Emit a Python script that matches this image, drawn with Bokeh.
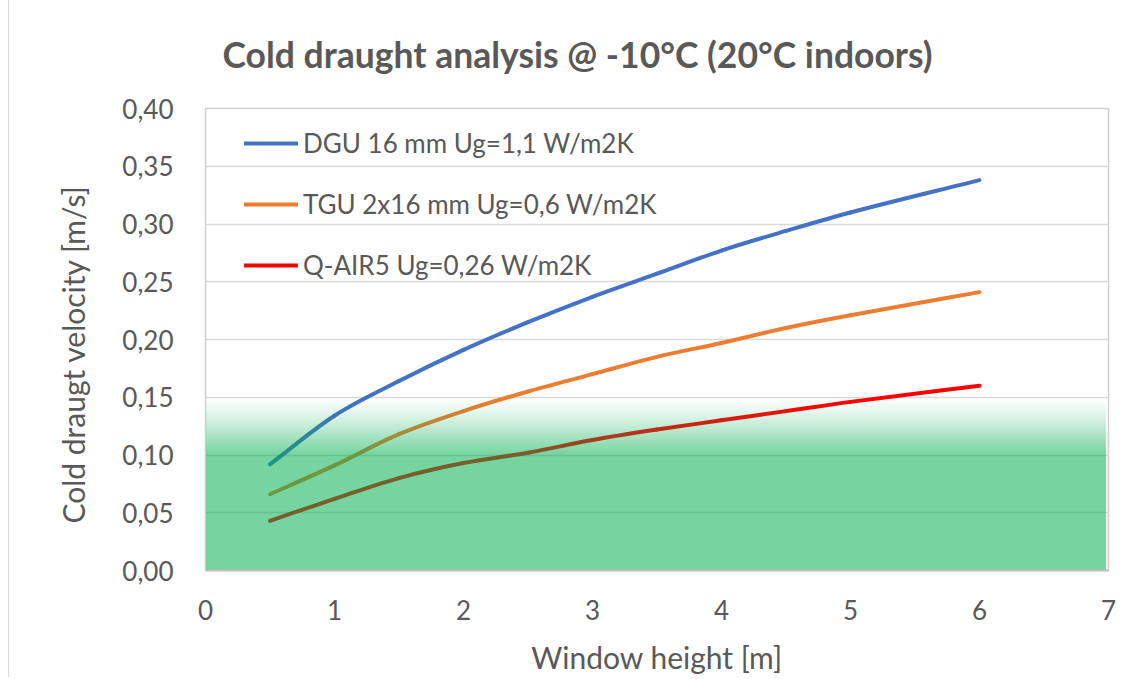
import numpy as np
from bokeh.plotting import figure
from bokeh.models import Legend, LegendItem, FixedTicker, Title
from bokeh.embed import file_html
from bokeh.resources import INLINE

# ---- data ----
heights = [0.5, 1.0, 1.5, 2.0, 2.5, 3.0, 3.5, 4.0, 4.5, 5.0, 6.0]
dgu = [0.092, 0.134, 0.164, 0.191, 0.215, 0.237, 0.257, 0.277, 0.294, 0.310, 0.338]
tgu = [0.066, 0.091, 0.118, 0.138, 0.155, 0.170, 0.185, 0.197, 0.210, 0.221, 0.241]
qair = [0.043, 0.062, 0.080, 0.093, 0.102, 0.113, 0.122, 0.130, 0.138, 0.146, 0.160]
series_names = ["DGU 16 mm Ug=1,1 W/m2K", "TGU 2x16 mm Ug=0,6 W/m2K", "Q-AIR5 Ug=0,26 W/m2K"]
series_colors = ["#4472C4", "#ED7D31", "#FF0000"]

x_ticks = [0, 1, 2, 3, 4, 5, 6, 7]
y_ticks = [0.0, 0.05, 0.10, 0.15, 0.20, 0.25, 0.30, 0.35, 0.40]
y_tick_labels = ["0,00", "0,05", "0,10", "0,15", "0,20", "0,25", "0,30", "0,35", "0,40"]

comfort_limit = 0.10   # solid comfort zone up to this velocity
comfort_fade = 0.15    # zone fades out up to this velocity
zone_right = 6.98

FONT = "Lato"
TXT = "#595959"
GREEN_RGB = (0, 175, 80)
ZONE_ALPHA = 0.54

p = figure(frame_width=903, frame_height=462,
           min_border_left=196, min_border_right=22,
           min_border_top=108, min_border_bottom=100,
           x_range=(0, 7), y_range=(0, 0.40),
           output_backend="svg", toolbar_location=None,
           background_fill_color="white", border_fill_color="white")
p.outline_line_color = "#D0D0D0"
p.outline_line_width = 1.5

p.title.text = "Cold draught analysis @ -10°C (20°C indoors)"
p.title.text_font = FONT
p.title.text_font_size = "35.5px"
p.title.text_font_style = "bold"
p.title.text_color = TXT
p.title.align = "left"
p.title.offset = 17
p.title.vertical_align = "top"
p.title.standoff = 61

# axes
p.xaxis.ticker = FixedTicker(ticks=x_ticks)
p.yaxis.ticker = FixedTicker(ticks=y_ticks)
p.yaxis.major_label_overrides = {t: l for t, l in zip(y_ticks, y_tick_labels)}
for ax in (p.xaxis, p.yaxis):
    ax.major_tick_line_color = None
    ax.minor_tick_line_color = None
    ax.major_label_text_font = FONT
    ax.major_label_text_font_size = "26px"
    ax.major_label_text_color = TXT
    ax.axis_label_text_font = FONT
    ax.axis_label_text_font_size = "30px"
    ax.axis_label_text_color = TXT
    ax.axis_label_text_font_style = "normal"
p.yaxis.axis_line_color = "#D0D0D0"
p.xaxis.axis_line_color = "#BFBFBF"
p.xaxis.axis_line_width = 2
p.yaxis.major_label_standoff = 26
p.xaxis.major_label_standoff = 23
p.xaxis.axis_label = "Window height [m]"
p.xaxis.axis_label_standoff = 16

# y-axis title, placed lower than the frame centre as in the original
ytitle = Title(text="Cold draugt velocity [m/s]", align="left", offset=47,
               text_font=FONT, text_font_size="30px", text_font_style="normal",
               text_color=TXT, standoff=58)
p.add_layout(ytitle, "left")

p.xgrid.grid_line_color = None
p.ygrid.grid_line_color = "#D9D9D9"
p.ygrid.grid_line_width = 1.5


def smooth_segments(xs, ys):
    """Cubic Bezier control points (Hermite, finite-difference slopes) through the data points."""
    n = len(xs)
    slopes = []
    for i in range(n):
        a, b = max(i - 1, 0), min(i + 1, n - 1)
        slopes.append((ys[b] - ys[a]) / (xs[b] - xs[a]))
    x0, y0, x1, y1, cx0, cy0, cx1, cy1 = [], [], [], [], [], [], [], []
    for i in range(n - 1):
        h = xs[i + 1] - xs[i]
        x0.append(xs[i]); y0.append(ys[i]); x1.append(xs[i + 1]); y1.append(ys[i + 1])
        cx0.append(xs[i] + h / 3); cy0.append(ys[i] + slopes[i] * h / 3)
        cx1.append(xs[i + 1] - h / 3); cy1.append(ys[i + 1] - slopes[i + 1] * h / 3)
    return dict(x0=x0, y0=y0, x1=x1, y1=y1, cx0=cx0, cy0=cy0, cx1=cx1, cy1=cy1)


renderers = []
for ys, c in zip([dgu, tgu, qair], series_colors):
    seg = smooth_segments(heights, ys)
    r = p.bezier(line_color=c, line_width=4, line_cap="round", **seg)
    renderers.append(r)

# comfort zone overlay as one RGBA image: solid up to the limit, fading above
rows = 300
img = np.zeros((rows, 2), dtype=np.uint32)
view = img.view(dtype=np.uint8).reshape((rows, 2, 4))
for i in range(rows):
    yv = comfort_fade * (i + 0.5) / rows
    if yv <= comfort_limit:
        a = ZONE_ALPHA
    else:
        t = (yv - comfort_limit) / (comfort_fade - comfort_limit)
        a = ZONE_ALPHA * (1 - t) ** 1.2
    view[i, :, 0] = GREEN_RGB[0]
    view[i, :, 1] = GREEN_RGB[1]
    view[i, :, 2] = GREEN_RGB[2]
    view[i, :, 3] = int(round(a * 255))
p.image_rgba(image=[img], x=0, y=0, dw=zone_right, dh=comfort_fade)

legend = Legend(items=[LegendItem(label=nm, renderers=[r], index=0) for nm, r in zip(series_names, renderers)],
                location=(39, 289), orientation="vertical",
                glyph_width=54, glyph_height=30, label_height=30,
                label_standoff=5, spacing=29, padding=0, margin=0,
                background_fill_alpha=0, border_line_color=None,
                label_text_font=FONT, label_text_font_size="26px",
                label_text_color=TXT)
p.add_layout(legend, "center")

p.styles = {"border-left": "1px solid #D9D9D9", "margin-left": "8px"}

open("out.html", "w").write(file_html(p, INLINE))
